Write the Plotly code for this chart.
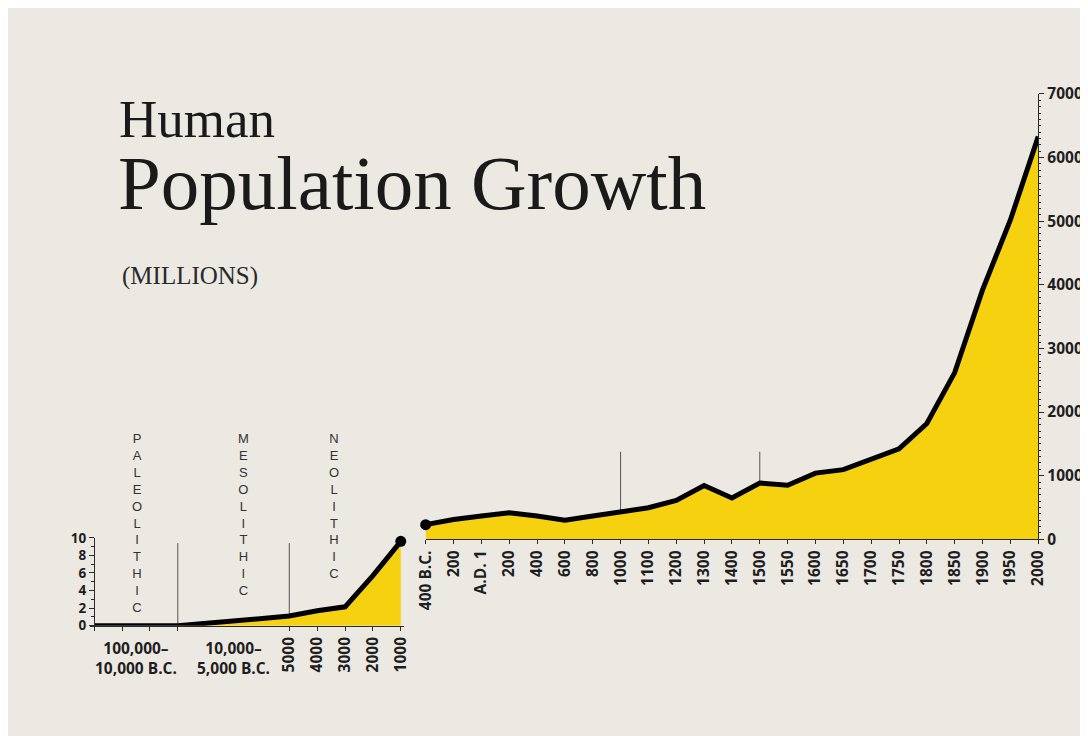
import plotly.graph_objects as go

# ---------------- data ----------------
# Early period (stylised time axis, ordinal slot index) - values in millions
early_tick_slots = [0, 1, 2, 3, 7, 8, 9, 10, 11]
early_tick_labels = ["", "", "", "", "5000", "4000", "3000", "2000", "1000"]
early_slot = [0, 3, 7, 8, 9, 10, 11]
early_pop = [0, 0, 1.1, 1.7, 2.15, 5.7, 9.6]
early_y_ticks = [0, 2, 4, 6, 8, 10]
early_range_labels = ["100,000–<br>10,000 B.C.", "10,000–<br>5,000 B.C."]
early_range_slots = [1.5, 5]
periods = ["PALEOLITHIC", "MESOLITHIC", "NEOLITHIC"]
period_slots = [1.57, 5.4, 8.64]
period_marks = [3, 7]

# Later period (400 B.C. - 2000)
late_labels = ["400 B.C.", "200", "A.D. 1", "200", "400", "600", "800", "1000",
               "1100", "1200", "1300", "1400", "1500", "1550", "1600", "1650",
               "1700", "1750", "1800", "1850", "1900", "1950", "2000"]
late_pop = [230, 310, 365, 415, 365, 300, 365, 430, 495, 610, 845, 650, 885,
            850, 1040, 1095, 1260, 1420, 1820, 2620, 3920, 5020, 6330]
late_marks = ["1000", "1500"]

W, H = 1088, 736
YELLOW = "#f6d10f"
CREAM = "#ece9e3"
AX = "#2a2a2a"
TICKFONT = dict(family="Open Sans", size=15.5, color="#1e1e1e", weight="bold")
SMALLTICK = dict(family="Open Sans", size=13.5, color="#1e1e1e", weight="bold")

# page -> picture mapping compensation (picture = s * (fig + 18))
SX, SY, OFF = 0.9837, 0.976, 18.0


def px(xr):
    """reference picture x (pixels) -> paper fraction"""
    return (xr / SX - OFF) / W


def py(yr):
    """reference picture y (pixels from top) -> paper fraction"""
    return 1 - (yr / SY - OFF) / H


late_idx = list(range(len(late_labels)))

fig = go.Figure()

fig.add_trace(go.Scatter(
    x=early_slot, y=early_pop, mode="lines", xaxis="x", yaxis="y",
    line=dict(color="black", width=5), fill="tozeroy", fillcolor=YELLOW,
    hoverinfo="skip", showlegend=False, cliponaxis=False))
fig.add_trace(go.Scatter(
    x=[early_slot[-1]], y=[early_pop[-1]], mode="markers", xaxis="x", yaxis="y",
    marker=dict(color="black", size=11), showlegend=False, cliponaxis=False,
    hoverinfo="skip"))

fig.add_trace(go.Scatter(
    x=late_idx, y=late_pop, mode="lines", xaxis="x2", yaxis="y2",
    line=dict(color="black", width=5), fill="tozeroy", fillcolor=YELLOW,
    hoverinfo="skip", showlegend=False, cliponaxis=False))
fig.add_trace(go.Scatter(
    x=[late_idx[0]], y=[late_pop[0]], mode="markers", xaxis="x2", yaxis="y2",
    marker=dict(color="black", size=11), showlegend=False, cliponaxis=False,
    hoverinfo="skip"))

shapes = []
for s in period_marks:
    shapes.append(dict(type="line", xref="x", yref="y", x0=s, x1=s, y0=0,
                       y1=9.4, line=dict(color="#555", width=1), layer="below"))
for lab in late_marks:
    i = late_labels.index(lab)
    shapes.append(dict(type="line", xref="x2", yref="y2", x0=i, x1=i, y0=0,
                       y1=1375, line=dict(color="#555", width=1), layer="below"))

annotations = [
    dict(text="Human", xref="paper", yref="paper", x=px(115), y=py(117),
         xanchor="left", yanchor="middle", showarrow=False,
         font=dict(family="Liberation Serif", size=53, color="#1a1a1a")),
    dict(text="Population Growth", xref="paper", yref="paper", x=px(114),
         y=py(182), xanchor="left", yanchor="middle", showarrow=False,
         font=dict(family="Liberation Serif", size=77, color="#1a1a1a")),
    dict(text="(MILLIONS)", xref="paper", yref="paper", x=px(118), y=py(275),
         xanchor="left", yanchor="middle", showarrow=False,
         font=dict(family="Liberation Serif", size=25, color="#2a2a2a")),
]
for lab, s in zip(early_range_labels, early_range_slots):
    annotations.append(dict(text=lab, xref="x", yref="paper", x=s, y=py(636),
                            xanchor="center", yanchor="top", showarrow=False,
                            font=TICKFONT))
for name, s in zip(periods, period_slots):
    annotations.append(dict(text="<br>".join(name), xref="x", yref="paper",
                            x=s - 0.05, y=py(429), xanchor="center",
                            yanchor="top", showarrow=False,
                            font=dict(family="Liberation Sans", size=13,
                                      color="#333333")))

fig.update_layout(
    width=W, height=H, autosize=False,
    margin=dict(l=0, r=0, t=0, b=0),
    paper_bgcolor=CREAM, plot_bgcolor="rgba(0,0,0,0)",
    showlegend=False,
    shapes=shapes, annotations=annotations,
    xaxis=dict(domain=[px(88), px(402.8)], range=[-0.15, 11.1],
               tickmode="array", tickvals=early_tick_slots,
               ticktext=early_tick_labels, tickangle=-90, ticks="outside",
               ticklen=4, tickcolor=AX, showline=True, linecolor=AX,
               linewidth=1, showgrid=False, zeroline=False, anchor="y",
               tickfont=TICKFONT, fixedrange=True),
    yaxis=dict(domain=[py(627), py(538.5)], range=[0, 10], tickmode="array",
               tickvals=early_y_ticks, ticks="outside", ticklen=5,
               tickcolor=AX, showline=True, linecolor=AX, linewidth=1,
               showgrid=False, zeroline=False, anchor="free",
               position=px(92), tickfont=SMALLTICK,
               minor=dict(dtick=1, ticks="outside", ticklen=3, tickcolor=AX)),
    xaxis2=dict(domain=[px(425), px(1040)], range=[0, 22], tickmode="array",
                tickvals=late_idx, ticktext=late_labels, tickangle=-90,
                ticks="outside", ticklen=4, tickcolor=AX, showline=True,
                linecolor=AX, linewidth=1, showgrid=False, zeroline=False,
                anchor="y2", tickfont=TICKFONT),
    yaxis2=dict(domain=[py(540), py(92)], range=[0, 7000], dtick=1000,
                side="right", anchor="x2", ticks="outside", ticklen=5,
                tickcolor=AX, showline=True, linecolor=AX, linewidth=1,
                showgrid=False, zeroline=False, tickfont=TICKFONT,
                minor=dict(dtick=100, ticks="outside", ticklen=2,
                           tickcolor=AX)),
)

fig.write_html("out.html")
